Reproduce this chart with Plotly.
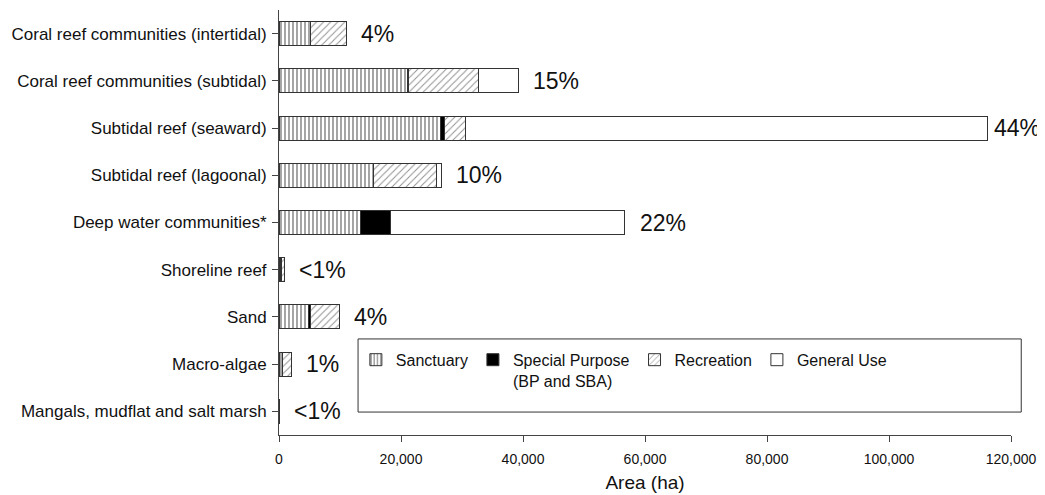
import plotly.graph_objects as go

categories = [
    "Coral reef communities (intertidal)",
    "Coral reef communities (subtidal)",
    "Subtidal reef (seaward)",
    "Subtidal reef (lagoonal)",
    "Deep water communities*",
    "Shoreline reef",
    "Sand",
    "Macro-algae",
    "Mangals, mudflat and salt marsh",
]
sanctuary = [5200, 21000, 26400, 15500, 13400, 200, 4800, 500, 20]
special_purpose = [0, 300, 650, 0, 4900, 150, 300, 0, 0]
recreation = [5800, 11400, 3500, 10400, 0, 550, 4800, 1500, 20]
general_use = [0, 6500, 85600, 700, 38400, 0, 0, 0, 0]
pct_labels = ["4%", "15%", "44%", "10%", "22%", "<1%", "4%", "1%", "<1%"]

FONT = "Liberation Sans, Arial, sans-serif"
OUTLINE = dict(color="#333333", width=1)

fig = go.Figure()
fig.add_trace(go.Bar(
    y=categories, x=sanctuary, orientation="h", name="Sanctuary",
    marker=dict(color="white", line=OUTLINE,
                pattern=dict(shape="|", size=4, solidity=0.35, fgcolor="#000000", bgcolor="white")),
))
fig.add_trace(go.Bar(
    y=categories, x=special_purpose, orientation="h", name="Special Purpose<br>(BP and SBA)",
    marker=dict(color="black", line=OUTLINE),
))
fig.add_trace(go.Bar(
    y=categories, x=recreation, orientation="h", name="Recreation",
    marker=dict(color="white", line=OUTLINE,
                pattern=dict(shape="/", size=5, solidity=0.2, fgcolor="#222222", bgcolor="white")),
))
fig.add_trace(go.Bar(
    y=categories, x=general_use, orientation="h", name="General Use",
    marker=dict(color="white", line=OUTLINE),
))

totals = [a + b + c + d for a, b, c, d in zip(sanctuary, special_purpose, recreation, general_use)]
for cat, tot, lab in zip(categories, totals, pct_labels):
    fig.add_annotation(
        x=tot, y=cat, text=lab, showarrow=False, xanchor="left",
        xshift=4 if tot > 100000 else 13,
        font=dict(family=FONT, size=23, color="#111111"),
    )

# legend frame
fig.add_shape(type="rect", xref="paper", yref="paper",
              x0=0.108, x1=1.014, y0=0.054, y1=0.226,
              line=dict(color="#333333", width=1), fillcolor="rgba(0,0,0,0)")

# page body has an 8px margin, so the figure is trimmed by that much
fig.update_layout(
    barmode="stack",
    bargap=0.49,
    width=1037, height=487,
    margin=dict(l=271, r=34, t=2, b=60),
    plot_bgcolor="white", paper_bgcolor="white",
    font=dict(family=FONT, size=17, color="#111111"),
    legend=dict(
        orientation="h", x=0.105, y=0.217, xanchor="left", yanchor="top",
        font=dict(family=FONT, size=16, color="#111111"),
        bgcolor="rgba(0,0,0,0)", borderwidth=0, valign="top",
        traceorder="normal",
    ),
    xaxis=dict(
        range=[0, 120000], tickvals=[0, 20000, 40000, 60000, 80000, 100000, 120000],
        tickformat=",d", showgrid=False, zeroline=False,
        showline=True, linecolor="#444444", linewidth=1,
        ticks="outside", ticklen=6, tickcolor="#444444",
        tickfont=dict(size=14), ticklabelstandoff=5,
        title=dict(text="Area (ha)", font=dict(size=19), standoff=9),
    ),
    yaxis=dict(
        autorange="reversed", showgrid=False, zeroline=False,
        showline=True, linecolor="#444444", linewidth=1,
        ticks="outside", ticklen=6, tickcolor="#444444",
        tickfont=dict(size=17), ticklabelstandoff=2,
    ),
)

fig.write_html("out.html")
